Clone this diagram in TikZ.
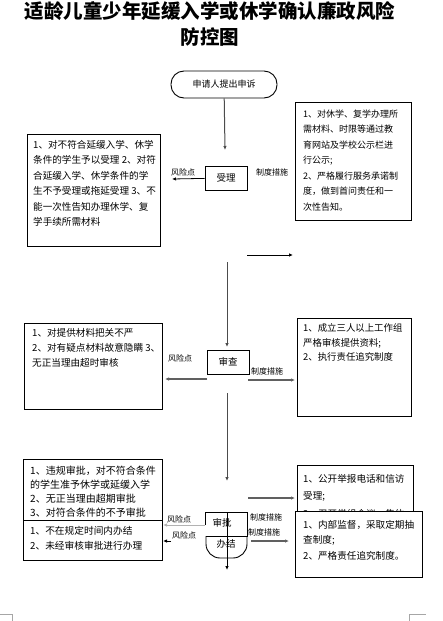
\documentclass[tikz,border=0pt]{standalone}
\usepackage{fontspec}
\setmainfont{Noto Sans CJK SC}
\usetikzlibrary{arrows.meta}
\begin{document}
\begin{tikzpicture}[x=1pt,y=-1pt,
  box/.style={draw, line width=0.9pt, fill=white, inner sep=0pt, anchor=north west},
  txt/.style={anchor=north west, align=left, inner sep=0pt},
  cbox/.style={draw, line width=0.9pt, minimum width=42pt, minimum height=24pt, inner sep=0pt, font=\fontsize{9.5}{10}\selectfont},
  lab/.style={font=\fontsize{8}{8}\selectfont, inner sep=0pt},
  arr/.style={-{Latex[length=4pt,width=3.5pt]}, line width=0.8pt},
  garr/.style={arr, draw=gray!75!black, line width=1.2pt},
  vline/.style={arr, draw=gray!60!black, line width=1pt},
  cornermark/.style={draw=gray!70, line width=0.8pt}
]
\useasboundingbox (0,0) rectangle (443,621);

% title
\node[font=\fontsize{19.5}{25.5}\selectfont\bfseries, align=center, inner sep=0pt] (title) at (210,24)
  {适龄儿童少年延缓入学或休学确认廉政风险\\防控图};

% start
\node[draw, line width=0.9pt, rounded corners=13pt, minimum width=106pt, minimum height=27pt,
      font=\fontsize{9}{10}\selectfont] (start) at (224,84.5) {申请人提出申诉};

% step 1
\node[cbox] (shouli) at (226,178) {受理};
\node[lab] (l1) at (183,172) {风险点};
\node[lab] (m1) at (272,172) {制度措施};
\coordinate (c0) at (225,150);
\draw[vline] (start) -- (c0);
\coordinate (k1) at (172,179);
\draw[arr] (shouli) -- (k1);

\node[box, minimum width=133pt, minimum height=112pt] (b1) at (27,134) {};
\node[txt, font=\fontsize{9.6}{15.5}\selectfont] (t1) at (33,140)
  {1、对不符合延缓入学、休学\\条件的学生予以受理 2、对符\\合延缓入学、休学条件的学\\生不予受理或拖延受理 3、不\\能一次性告知办理休学、复\\学手续所需材料};

\node[box, minimum width=116pt, minimum height=118pt] (r1) at (295,102) {};
\node[txt, font=\fontsize{9}{15.5}\selectfont] (tr1) at (303,109.5)
  {1、对休学、复学办理所\\需材料、时限等通过教\\育网站及学校公示栏进\\行公示;\\2、严格履行服务承诺制\\度，做到首问责任和一\\次性告知。};

\coordinate (p1a) at (247,255);
\coordinate (p1b) at (293,255);
\draw[arr] (p1a) -- (p1b);

% step 2
\coordinate (v1a) at (227,262);
\coordinate (v1b) at (227,347);
\draw[vline] (v1a) -- (v1b);
\node[cbox] (shencha) at (228,362) {审查};
\node[lab] (l2) at (180,358) {风险点};
\node[lab] (m2) at (267,371) {制度措施};
\coordinate (k2a) at (207,379);
\coordinate (k2b) at (165,379);
\draw[garr] (k2a) -- (k2b);
\coordinate (p2a) at (248,380);
\coordinate (p2b) at (295,380);
\draw[garr] (p2a) -- (p2b);

\node[box, minimum width=138pt, minimum height=86pt] (b2) at (24,323) {};
\node[txt, font=\fontsize{9.6}{15}\selectfont] (t2) at (32,328.5)
  {1、对提供材料把关不严\\2、对有疑点材料故意隐瞒 3、\\无正当理由超时审核};

\node[box, minimum width=114pt, minimum height=98pt] (r2) at (297,318) {};
\node[txt, font=\fontsize{9.4}{14.5}\selectfont] (tr2) at (303,323.5)
  {1、成立三人以上工作组\\严格审核提供资料;\\2、执行责任追究制度};

% step 3
\coordinate (v2a) at (227,393);
\coordinate (v2b) at (227,481);
\draw[vline] (v2a) -- (v2b);
\coordinate (p3a) at (248,498);
\coordinate (p3b) at (295,498);
\draw[garr] (p3a) -- (p3b);

\node[box, minimum width=139pt, minimum height=80pt] (b3) at (23,459) {};
\node[txt, font=\fontsize{10}{14}\selectfont] (t3) at (30,466)
  {1、违规审批，对不符合条件\\的学生准予休学或延缓入学\\2、无正当理由超期审批\\3、对符合条件的不予审批};
\node[box, minimum width=139pt, minimum height=40pt] (b4) at (23,520) {};
\node[txt, font=\fontsize{9.7}{15}\selectfont] (t4) at (30,526)
  {1、不在规定时间内办结\\2、未经审核审批进行办理};

\node[box, minimum width=116pt, minimum height=70pt] (r3) at (297,465) {};
\node[txt, font=\fontsize{9.6}{17.5}\selectfont] (tr3) at (303,474)
  {1、公开举报电话和信访\\受理;\\2、召开党组会议，集体};
\node[box, minimum width=127pt, minimum height=66pt] (r5) at (295,511) {};
\node[txt, font=\fontsize{9.6}{15.5}\selectfont] (tr5) at (303,520)
  {1、内部监督，采取定期抽\\查制度;\\2、严格责任追究制度。};

% 审批 / 办结
\node[inner sep=0pt, font=\fontsize{9.5}{10}\selectfont] (shenpi) at (222,523) {审批};
\node[inner sep=0pt, font=\fontsize{9.5}{10}\selectfont] (banjie) at (226,544) {办结};
\draw[line width=0.9pt] (205,525) -- (205,512) -- (247,512) -- (247,537);
\draw[line width=0.9pt] (206,536) -- (247,536);
\draw[line width=0.9pt, rounded corners=14pt] (206,536) -- (206,558) -- (247,558) -- (247,536);
\coordinate (v3a) at (227,512);
\coordinate (v3b) at (227,570);
\draw[arr] (v3a) -- (v3b);

\node[lab] (l3) at (179,519) {风险点};
\node[lab] (l4) at (184,535) {风险点};
\node[lab] (m3) at (266,517) {制度措施};
\node[lab] (m4) at (264,532) {制度措施};
\coordinate (k3a) at (205,525);
\coordinate (k3b) at (163,525);
\draw[arr, draw=gray!60] (k3a) -- (k3b);
\coordinate (k4a) at (171,541);
\coordinate (k4b) at (163,541);
\draw[arr] (k4a) -- (k4b);
\coordinate (p4a) at (251,541);
\coordinate (p4b) at (289,541);
\draw[garr] (p4a) -- (p4b);

% page corner marks
\draw[cornermark] (0,614) -- (12,614) -- (12,621);
\draw[cornermark] (409,621) -- (409,614) -- (426,614);
\end{tikzpicture}
\end{document}
